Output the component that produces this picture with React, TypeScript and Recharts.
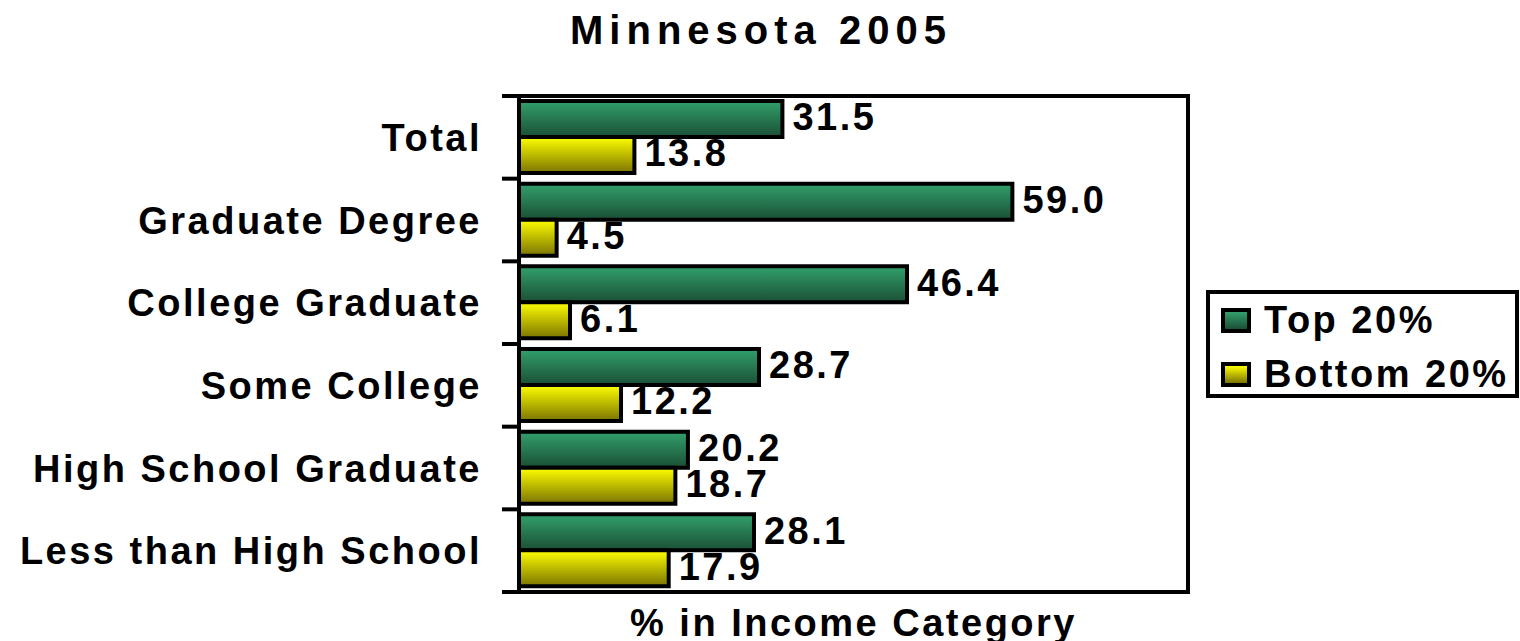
import { Bar, BarChart, LabelList, Legend, ReferenceArea, XAxis, YAxis } from "recharts";

// Minnesota 2005: share of each education group in the top / bottom income fifth

const categories = [
  "Total",
  "Graduate Degree",
  "College Graduate",
  "Some College",
  "High School Graduate",
  "Less than High School",
];
const top20 = [31.5, 59.0, 46.4, 28.7, 20.2, 28.1];
const bottom20 = [13.8, 4.5, 6.1, 12.2, 18.7, 17.9];
const xTicks = [0, 80];

const data = categories.map((name, i) => ({ name, top: top20[i], bottom: bottom20[i] }));

const series = [
  { key: "top", name: "Top 20%", from: "#32a06c", to: "#1b4f36" },
  { key: "bottom", name: "Bottom 20%", from: "#ffff00", to: "#7a7400" },
];

const W = 1520;
const H = 660;
const PLOT_TOP = 96;
const PLOT_BOTTOM = 592;
const PLOT_LEFT = 519;
const PLOT_RIGHT = 1188;
const BAND = (PLOT_BOTTOM - PLOT_TOP) / categories.length;

const font = {
  fontFamily: "'Liberation Sans', Arial, sans-serif",
  fontWeight: 700,
  fontSize: 38,
  letterSpacing: 2.5,
  fill: "#000",
};

function CategoryTick(props: any) {
  const { x, y, payload, index } = props;
  const last = index === categories.length - 1;
  return (
    <g>
      <text x={x - 37} y={y} dy="0.36em" textAnchor="end" style={font}>
        {payload.value}
      </text>
      <line x1={x - 17} x2={x} y1={y - BAND / 2} y2={y - BAND / 2} stroke="#000" strokeWidth={4} />
      {last && <line x1={x - 17} x2={x} y1={y + BAND / 2} y2={y + BAND / 2} stroke="#000" strokeWidth={4} />}
    </g>
  );
}

function LegendBox() {
  return (
    <div
      style={{
        position: "relative",
        width: 313,
        height: 108,
        border: "4px solid #000",
        boxSizing: "border-box",
        background: "#fff",
        fontFamily: font.fontFamily,
        fontWeight: 700,
        fontSize: 38,
        letterSpacing: 2.5,
        color: "#000",
      }}
    >
      {series.map((s, i) => (
        <div key={s.key} style={{ position: "absolute", left: 11, top: 9 + i * 54, height: 34, display: "flex", alignItems: "center" }}>
          <div
            style={{
              width: 30,
              height: 25,
              boxSizing: "border-box",
              border: "4px solid #000",
              background: `linear-gradient(${s.from}, ${s.to})`,
            }}
          />
          <span style={{ marginLeft: 13, lineHeight: "34px", whiteSpace: "nowrap" }}>{s.name}</span>
        </div>
      ))}
    </div>
  );
}

export default function App() {
  return (
    <div style={{ position: "relative", width: W, height: H, background: "#fff" }}>
      <style>{`body{margin:0;background:#fff}`}</style>
      <div
        style={{
          position: "absolute",
          left: 461,
          top: 7,
          width: 600,
          textAlign: "center",
          fontFamily: font.fontFamily,
          fontWeight: 700,
          fontSize: 40,
          letterSpacing: 6,
          lineHeight: "46px",
          color: "#000",
          zIndex: 2,
        }}
      >
        Minnesota 2005
      </div>
      <BarChart
        width={W}
        height={H}
        data={data}
        layout="vertical"
        margin={{ top: PLOT_TOP, right: W - PLOT_RIGHT, left: 0, bottom: 8 }}
        barCategoryGap={5}
        barGap={0}
      >
        <defs>
          {series.map((s) => (
            <linearGradient key={s.key} id={`g-${s.key}`} x1="0" y1="0" x2="0" y2="1">
              <stop offset="0%" stopColor={s.from} />
              <stop offset="100%" stopColor={s.to} />
            </linearGradient>
          ))}
        </defs>
        <XAxis
          type="number"
          domain={[xTicks[0], xTicks[1]]}
          ticks={xTicks}
          tick={false}
          axisLine={false}
          tickLine={false}
          height={H - 8 - PLOT_BOTTOM}
          label={{
            value: "% in Income Category",
            position: "insideTop",
            offset: 17,
            style: font,
          }}
        />
        <YAxis
          type="category"
          dataKey="name"
          width={PLOT_LEFT}
          axisLine={false}
          tickLine={false}
          tickSize={0}
          tickMargin={0}
          interval={0}
          tick={<CategoryTick />}
        />
        <Legend
          layout="horizontal"
          verticalAlign="middle"
          align="center"
          wrapperStyle={{ left: 1206, top: 290, width: 313, height: 108 }}
          content={<LegendBox />}
        />
        {series.map((s) => (
          <Bar
            key={s.key}
            dataKey={s.key}
            name={s.name}
            fill={`url(#g-${s.key})`}
            stroke="#000"
            strokeWidth={4}
            isAnimationActive={false}
          >
            <LabelList
              dataKey={s.key}
              position="right"
              offset={10}
              dy={-2}
              formatter={(v: any) => Number(v).toFixed(1)}
              style={font}
            />
          </Bar>
        ))}
        <ReferenceArea
          x1={xTicks[0]}
          x2={xTicks[1]}
          fill="none"
          fillOpacity={0}
          stroke="#000"
          strokeWidth={4}
          ifOverflow="visible"
        />
      </BarChart>
    </div>
  );
}
